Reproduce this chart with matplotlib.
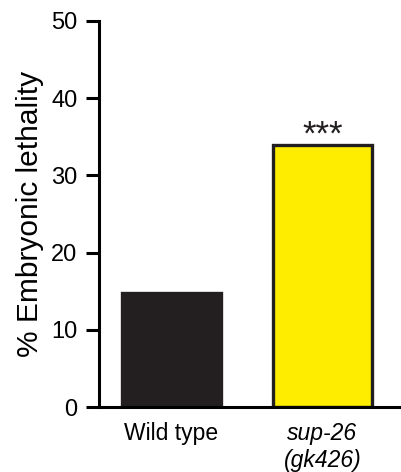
import matplotlib
matplotlib.use('Agg')
import matplotlib.pyplot as plt

categories = ['Wild type', 'sup-26\n(gk426)']
values = [14.7, 33.9]
colors = ['#231f20', '#ffed00']
significance = ['', '***']

plt.rcParams['font.family'] = ['Liberation Sans', 'DejaVu Sans']

fig = plt.figure(figsize=(4.01, 4.72), dpi=100)
ax = fig.add_axes([0.247, 0.1377, 0.753, 0.956 - 0.1377])

x = range(len(categories))
ax.bar(x, values, width=0.65, color=colors, edgecolor='#231f20', linewidth=2.4)
for xi, v, s in zip(x, values, significance):
    if s:
        ax.text(xi, v - 0.9, s, ha='center', va='bottom', fontsize=25, color='#231f20')

ax.set_xlim(-0.48, 1.52)
ax.set_ylim(0, 50)
ax.set_yticks([0, 10, 20, 30, 40, 50])
ax.set_xticks(list(x))
ax.set_xticklabels(categories, fontsize=16.5, linespacing=1.2)
ax.get_xticklabels()[1].set_style('italic')
ax.tick_params(axis='y', labelsize=17, width=2.2, length=9.5, direction='out', pad=6)
ax.tick_params(axis='x', length=0, pad=11)
ax.set_ylabel('% Embryonic lethality', fontsize=21.5, labelpad=5)

for side in ['top', 'right']:
    ax.spines[side].set_visible(False)
for side in ['left', 'bottom']:
    ax.spines[side].set_linewidth(2.2)

fig.savefig('out.png', dpi=100)
